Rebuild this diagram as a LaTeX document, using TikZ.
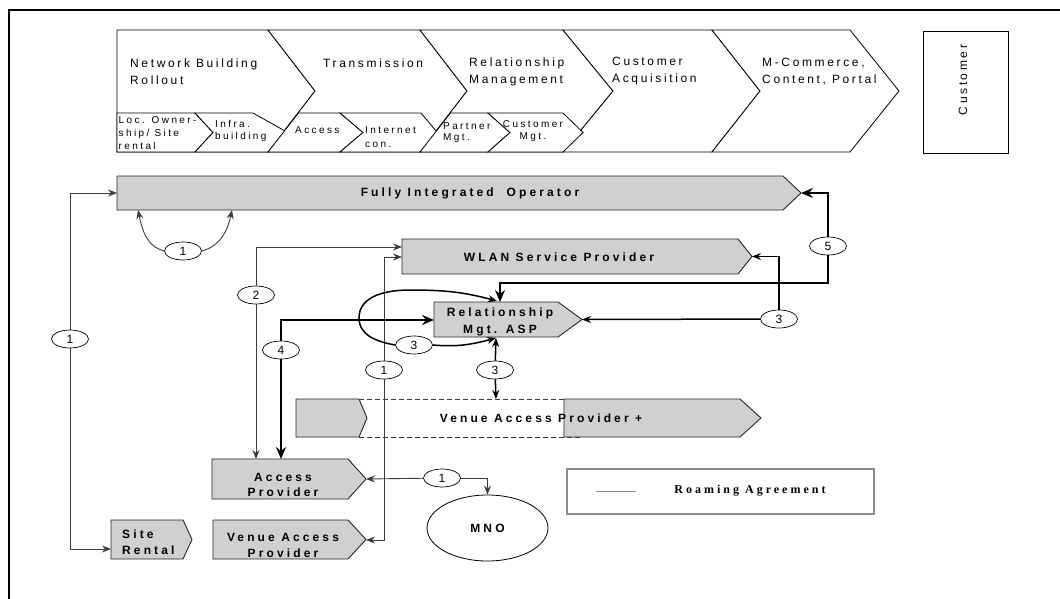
\documentclass[tikz,border=0pt]{standalone}
\usepackage{fontspec}
\setmainfont{Liberation Sans}
\newfontfamily\ls[LetterSpace=22]{Liberation Sans}
\newfontfamily\lss[LetterSpace=24]{Liberation Sans}
\newfontfamily\lsb[LetterSpace=26]{Liberation Sans}
\newfontfamily\lserif[LetterSpace=25]{Liberation Serif}
\usetikzlibrary{arrows.meta,shapes.geometric}
\definecolor{boxgray}{RGB}{208,208,208}
\definecolor{lgray}{RGB}{60,60,60}
\begin{document}
\begin{tikzpicture}[x=1pt,y=-1pt,
  wbox/.style={draw=black, line width=0.8pt, fill=white},
  gbox/.style={draw=black!85, line width=0.9pt, fill=boxgray},
  toptxt/.style={font=\ls\fontsize{12}{17}\selectfont, align=left, anchor=west, inner sep=0},
  subtxt/.style={font=\lss\fontsize{10}{13}\selectfont, align=left, anchor=west, inner sep=0},
  lbl/.style={font=\lsb\bfseries\fontsize{12}{16}\selectfont, inner sep=0, align=center},
  num/.style={draw=black, line width=0.7pt, ellipse, minimum width=37pt, minimum height=18pt, inner sep=0, fill=white, font=\fontsize{12}{12}\selectfont},
  thinln/.style={draw=lgray, line width=0.9pt},
  midln/.style={draw=black, line width=1.5pt},
  thickln/.style={draw=black, line width=2.6pt},
  arr/.style={-{Stealth[length=9pt,width=7pt,inset=3pt]}},
  barr/.style={-{Stealth[length=12pt,width=10pt,inset=4pt]}},
 ]
\useasboundingbox (0,0) rectangle (1060,599);
% frame
\draw[line width=2pt] (9,599) -- (9,10) -- (1060,10);

% top value chain
\draw[wbox] (117,30) -- (268,30) -- (315,91) -- (268,152) -- (117,152) -- cycle;
\draw[wbox] (268,30) -- (420,30) -- (467,91) -- (420,152) -- (268,152) -- (315,91) -- cycle;
\draw[wbox] (420,30) -- (563,30) -- (613,91) -- (563,152) -- (420,152) -- (467,91) -- cycle;
\draw[wbox] (563,30) -- (712,30) -- (760,91) -- (712,152) -- (563,152) -- (613,91) -- cycle;
\draw[wbox] (712,30) -- (850,30) -- (899,91) -- (850,152) -- (712,152) -- (760,91) -- cycle;
% sub chevrons
\draw[wbox] (117,113) -- (195,113) -- (213,132.5) -- (195,152) -- (117,152) -- cycle;
\draw[wbox] (195,113) -- (253,113) -- (285,131) -- (268,152) -- (195,152) -- (213,132.5) -- cycle;
\draw[wbox] (298.5,113) -- (340,113) -- (363,132.5) -- (340,152) -- (268,152) -- cycle;
\draw[wbox] (340,113) -- (421,113) -- (437,132) -- (420,152) -- (340,152) -- (363,132.5) -- cycle;
\draw[wbox] (450.5,113) -- (488,113) -- (510,132.5) -- (488,152) -- (420,152) -- cycle;
\draw[wbox] (488,113) -- (563,113) -- (583,132.5) -- (563,152) -- (488,152) -- (510,132.5) -- cycle;
\draw[wbox] (923,31) rectangle (1008,153);

\node[toptxt] (tnb) at (130,71.5) {Network Building\\Rollout};
\node[toptxt] (ttr) at (323,63) {Transmission};
\node[toptxt] (trm) at (469,71.5) {Relationship\\Management};
\node[toptxt] (tca) at (612,71.5) {Customer\\Acquisition};
\node[toptxt] (tmc) at (762,71.5) {M-Commerce,\\Content, Portal};
\node[font=\ls\fontsize{12}{13}\selectfont, rotate=90, inner sep=0] (tcu) at (963,80) {Customer};

\node[subtxt] (sloc) at (118.5,133) {Loc. Owner-\\ship/ Site\\rental};
\node[subtxt, font=\lss\fontsize{10}{12}\selectfont] (sinf) at (215,131) {Infra.\\building};
\node[subtxt] (sacc) at (295,130) {Access};
\node[subtxt, font=\lss\fontsize{10}{14}\selectfont] (sint) at (365,137) {Internet\\con.};
\node[subtxt, font=\lss\fontsize{10}{11.5}\selectfont] (spar) at (443,132.5) {Partner\\Mgt.};
\node[subtxt, align=center, anchor=center, font=\lss\fontsize{10}{12}\selectfont] (scus) at (533,131) {Customer\\Mgt.};

% gray boxes
\draw[gbox] (117,176) -- (783,176) -- (801,193) -- (783,210) -- (117,210) -- cycle;
\node[lbl] (fio) at (470,193) {Fully Integrated\ \ Operator};
\draw[gbox] (402,239) -- (738,239) -- (752,256.5) -- (738,274) -- (402,274) -- cycle;
\node[lbl] (wlan) at (559,257) {WLAN Service Provider};
\draw[gbox] (434,302) -- (558,302) -- (582,319.5) -- (558,337) -- (434,337) -- cycle;
\node[lbl, font=\lsb\bfseries\fontsize{12}{17}\selectfont] (rma) at (500,322) {Relationship\\Mgt. ASP};
\draw[gbox] (296,399) -- (359,399) -- (367,418) -- (359,437) -- (296,437) -- cycle;
\draw[thinln, dashed, dash pattern=on 5pt off 3pt] (359,399) -- (583,399) (359,437) -- (583,437);
\draw[gbox] (564,399) -- (740,399) -- (761,418) -- (740,437) -- (564,437) -- cycle;
\node[lbl] (vapp) at (541,418) {Venue Access Provider +};
\draw[gbox] (212,459) -- (348,459) -- (366,479) -- (348,499) -- (212,499) -- cycle;
\node[lbl, font=\lsb\bfseries\fontsize{12}{15}\selectfont] (ap) at (283,485) {Access\\Provider};
\draw[gbox] (111,520) -- (183,520) -- (192,539.5) -- (183,559) -- (111,559) -- cycle;
\node[lbl, align=left, anchor=west] (sr) at (122,542) {Site\\Rental};
\draw[gbox] (213,520) -- (348,520) -- (366,539.5) -- (348,559) -- (213,559) -- cycle;
\node[lbl] (vap) at (283,545) {Venue Access\\Provider};
\node[draw=black, line width=0.8pt, ellipse, minimum width=121pt, minimum height=66pt, inner sep=0, font=\lsb\bfseries\fontsize{12}{12}\selectfont] (mno) at (487.5,528) {MNO};
\draw[draw=black!45, line width=1.2pt] (567,469) rectangle (874,514);
\coordinate (lg1) at (596,491);
\coordinate (lg2) at (636,491);
\draw[draw=black!45, line width=0.9pt] (lg1) -- (lg2);
\node[font=\lserif\bfseries\fontsize{12}{12}\selectfont, inner sep=0] (roam) at (750,491) {Roaming Agreement};

% anchor coordinates
\coordinate (fio-w) at (117,193);
\coordinate (fio-b1) at (138,210);
\coordinate (fio-b2) at (232,210);
\coordinate (fio-tip) at (801,193);
\coordinate (wlan-w1) at (402,247);
\coordinate (wlan-w2) at (402,257);
\coordinate (wlan-tip) at (752,256.5);
\coordinate (rma-w) at (434,320);
\coordinate (rma-t1) at (497,301);
\coordinate (rma-t2) at (500,302);
\coordinate (rma-b) at (496,338);
\coordinate (rma-tip) at (582,319.5);
\coordinate (vapp-t) at (496,399);
\coordinate (ap-t1) at (256,459);
\coordinate (ap-t2) at (281,459);
\coordinate (ap-tip) at (366,479);
\coordinate (sr-w) at (111,549);
\coordinate (vap-tip) at (366,540);
\coordinate (c5) at (500,283);

% label ellipses
\node[num] (n1a) at (183,251) {1};
\node[num] (n1b) at (70,339) {1};
\node[num] (n2) at (256,295) {2};
\node[num] (n1c) at (384,370) {1};
\node[num] (n4) at (281,350) {4};
\node[num] (n3a) at (414,345) {3};
\node[num] (n3b) at (495,370) {3};
\node[num] (n3c) at (779,319) {3};
\node[num] (n5) at (828,246) {5};
\node[num] (n1d) at (442,478) {1};

% connectors
\draw[thinln,arr] (n1a.west) to[out=165,in=-78] (fio-b1);
\draw[thinln,arr] (n1a.east) to[out=15,in=-102] (fio-b2);
\draw[thinln,arr] (n1b) |- (fio-w);
\draw[thinln,arr] (n1b) |- (sr-w);
\draw[thinln,arr] (n2) |- (wlan-w1);
\draw[thinln,arr] (n2) -- (ap-t1);
\draw[thinln,arr] (n1c) |- (wlan-w2);
\draw[thinln,arr] (n1c) |- (vap-tip);
\draw[thickln,barr] (n4) |- (rma-w);
\draw[thickln,barr] (n4) -- (ap-t2);
\draw[midln,arr] (n3a.west) to[out=170,in=-90] (359,318) to[out=90,in=180] (410,290) to[out=0,in=165] (rma-t1);
\draw[midln,arr] (n3a.east) to[out=-5,in=195] (rma-b);
\draw[midln,arr] (n3b) -- (rma-b);
\draw[midln,arr] (n3b) -- (vapp-t);
\draw[midln,arr] (n3c) -- (rma-tip);
\draw[midln,arr] (n3c) |- (wlan-tip);
\draw[thickln,barr] (n5) |- (fio-tip);
\draw[thickln,barr] (n5) |- (c5) -- (rma-t2);
\draw[thinln,arr] (n1d) -- (ap-tip);
\draw[thinln,arr] (n1d) -| (mno);
\end{tikzpicture}
\end{document}
